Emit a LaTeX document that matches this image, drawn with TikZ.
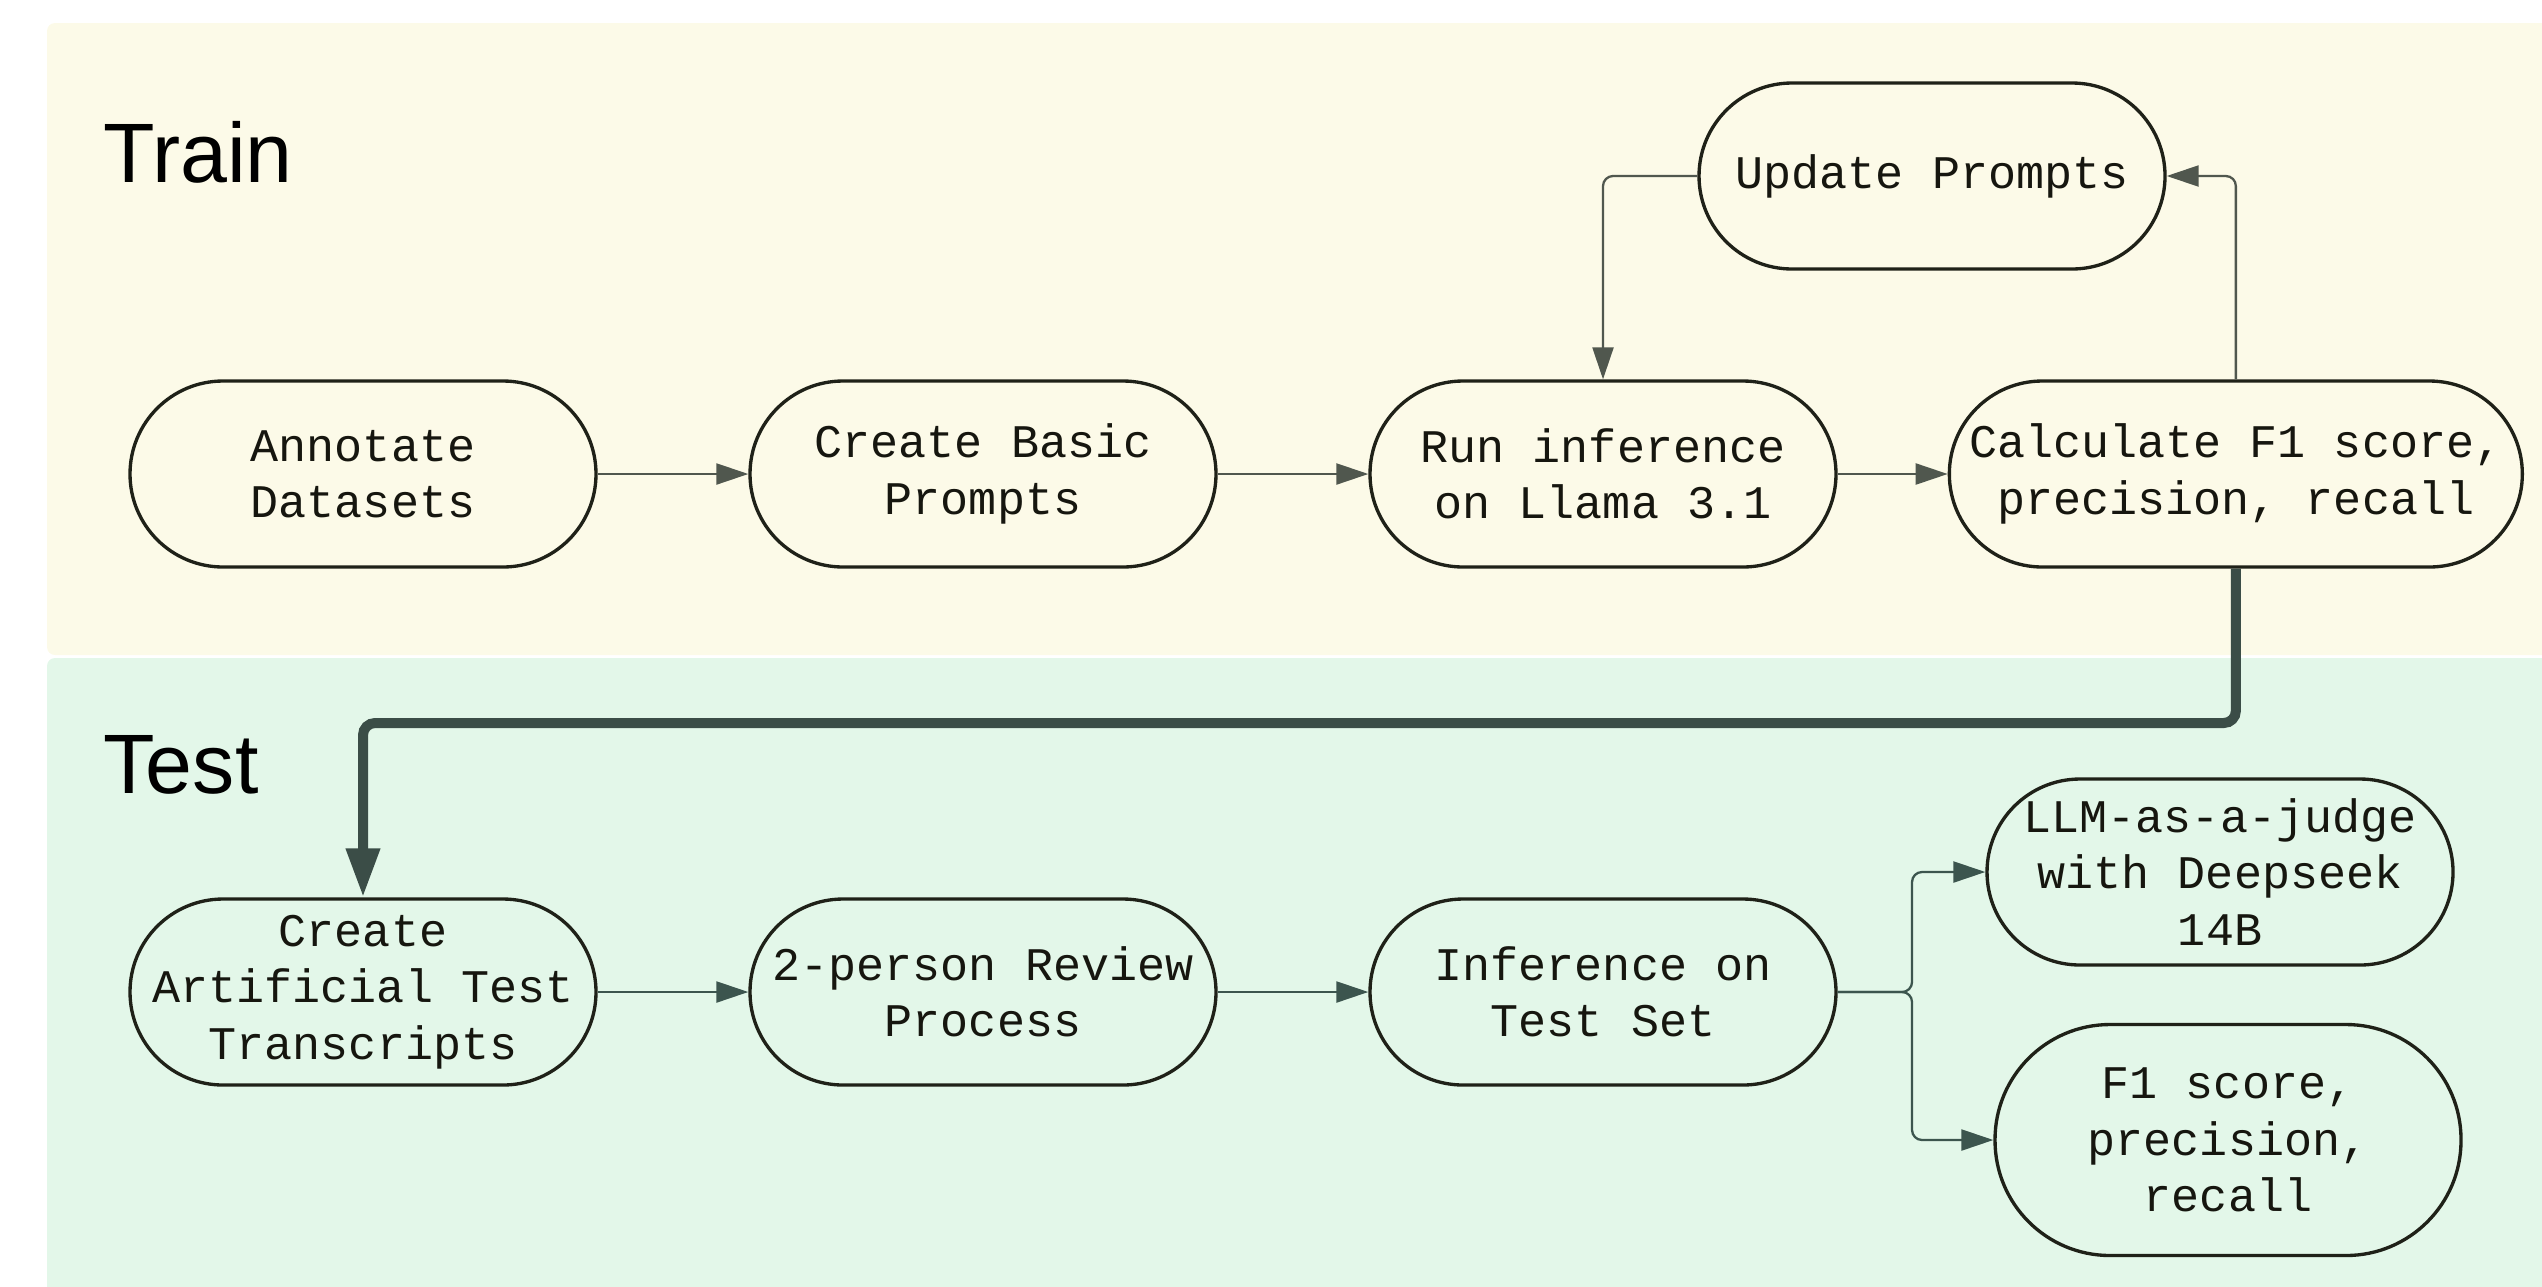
\documentclass[tikz,border=0pt]{standalone}
\usepackage{fontspec}
\setmainfont{Liberation Sans}
\setmonofont{Liberation Mono}
\usetikzlibrary{arrows.meta, positioning}

\definecolor{trainbg}{HTML}{FCFAE8}
\definecolor{testbg}{HTML}{E3F7E9}
\definecolor{trainline}{HTML}{50574E}
\definecolor{testline}{HTML}{3C554E}
\definecolor{handoff}{HTML}{3B4D47}
\definecolor{boxline}{HTML}{1F2118}
\definecolor{boxtext}{HTML}{16160F}

\begin{document}
\begin{tikzpicture}[x=0.1mm,y=-0.1mm,node distance=6.2cm,>={Triangle[length=3.2mm,width=2.1mm]}]
	\tikzset{stage/.style={draw=boxline, line width=0.95pt, rounded corners=9.3mm, minimum width=4.66cm, minimum height=1.86cm, inner sep=0pt, align=center, text=boxtext, font=\ttfamily\fontsize{13.3}{16}\selectfont}}
	\tikzset{flow/.style={->, line width=0.65pt, rounded corners=1mm}}
	\tikzset{handoff arrow/.style={-{Triangle[length=4.9mm,width=3.2mm]}, handoff, line width=1mm, rounded corners=1.2mm}}
	\tikzset{phase/.style={anchor=base west, inner sep=0pt, font=\fontsize{24}{28}\selectfont}}

	\useasboundingbox (0,0) rectangle (2542,1286);

	% the two phases
	\fill[trainbg, rounded corners=0.8mm] (47,23) rectangle (2620,655);
	\fill[testbg, rounded corners=0.8mm] (47,658) rectangle (2620,1340);
	\node[phase] (trainlbl) at (103,182) {Train};
	\node[phase] (testlbl) at (103,793) {Test};

	% train row
	\node[stage] (annot) at (363,474) {Annotate\\Datasets};
	\node[stage] (basic) [right of=annot] {Create Basic\\Prompts};
	\node[stage] (run) [right of=basic] {Run inference\\on Llama 3.1};
	\node[stage, minimum width=5.73cm] (calc) [right=1.1cm of run] {Calculate F1 score,\\precision, recall};
	\node[stage] (upd) at (1932,176) {Update Prompts};

	% test row
	\node[stage] (artif) at (363,992) {Create\\Artificial Test\\Transcripts};
	\node[stage] (review) [right of=artif] {2-person Review\\Process};
	\node[stage] (inftest) [right of=review] {Inference on\\Test Set};
	\node[stage] (judge) at (2220,872) {LLM-as-a-judge\\with Deepseek\\14B};
	\node[stage, minimum height=2.31cm, rounded corners=11.5mm] (scores) at (2228,1140) {F1 score,\\precision,\\recall};

	\coordinate (drop) at (0,723);
	\coordinate (fork) at (1912,992);

	\draw[flow, trainline] (annot) -- (basic);
	\draw[flow, trainline] (basic) -- (run);
	\draw[flow, trainline] (run) -- (calc);
	\draw[flow, trainline] (calc.north) |- (upd.east);
	\draw[flow, trainline] (upd.west) -| (run.north);

	\draw[handoff arrow] (calc.south) -- (calc.south |- drop) -| (artif.north);

	\draw[flow, testline] (artif) -- (review);
	\draw[flow, testline] (review) -- (inftest);
	\draw[flow, testline] (inftest.east) -- (fork) |- (judge.west);
	\draw[flow, testline] (inftest.east) -- (fork) |- (scores.west);
\end{tikzpicture}
\end{document}
